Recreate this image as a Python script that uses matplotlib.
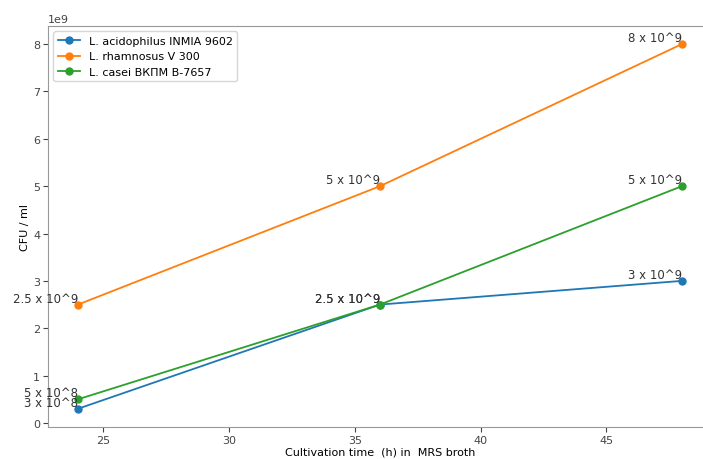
import matplotlib
matplotlib.use("Agg")
from matplotlib import pyplot as plt

# Cultivation time (h) and CFU/ml for each strain
hours = [24, 36, 48]
acidophilus = [3e8, 2.5e9, 3e9]
rhamnosus = [2.5e9, 5e9, 8e9]
casei = [5e8, 2.5e9, 5e9]

acidophilus_lbl = ["3 x 10^8", "2.5 x 10^9", "3 x 10^9"]
rhamnosus_lbl = ["2.5 x 10^9", "5 x 10^9", "8 x 10^9"]
casei_lbl = ["5 x 10^8", "2.5 x 10^9", "5 x 10^9"]

plt.rcParams['font.size'] = 8

fig = plt.figure(figsize=(7.03, 4.6), dpi=100)
ax = fig.add_axes([0.068, 0.0696, 0.945, 0.872])

series = [
    ("L. acidophilus INMIA 9602", acidophilus, acidophilus_lbl),
    ("L. rhamnosus V 300", rhamnosus, rhamnosus_lbl),
    ("L. casei ВКПМ В-7657", casei, casei_lbl),
]

for name, vals, lbls in series:
    ax.plot(hours, vals, marker='o', markersize=5, linewidth=1.3, label=name)
    for x, y, t in zip(hours, vals, lbls):
        ax.text(x, y, t, ha='right', va='bottom', fontsize=8.5, color='#333333')

ax.set_xlabel('Cultivation time  (h) in  MRS broth', fontsize=8, labelpad=1)
ax.set_ylabel('CFU / ml', fontsize=8, labelpad=2)
ax.tick_params(pad=2, colors='#444444')
ax.legend(loc='upper left', fontsize=8)

for s in ax.spines.values():
    s.set_color('#999999')

fig.savefig('out.png', dpi=100)
